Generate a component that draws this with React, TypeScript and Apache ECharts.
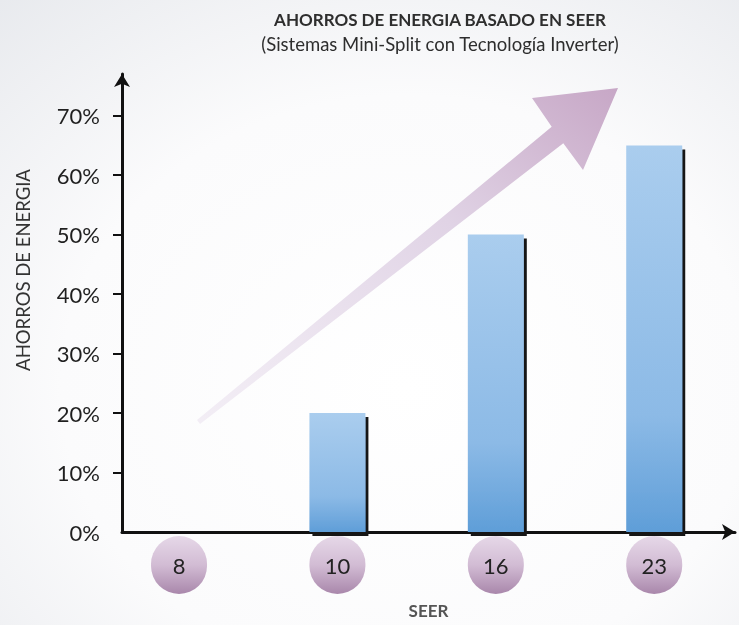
import React, { useEffect, useRef } from "react";
import * as echarts from "echarts";

const categories = ["8", "10", "16", "23"];
const savings = [0, 20, 50, 65];
const yLabelValues = [0, 10, 20, 30, 40, 50, 60, 70];
const yTickValues = [10, 20, 30, 40, 50, 60, 70];
const titleText = "AHORROS DE ENERGIA BASADO EN SEER";
const subtitleText = "(Sistemas Mini-Split con Tecnología Inverter)";
const yName = "AHORROS DE ENERGIA";
const xName = "SEER";

const FONT = "Lato, 'Open Sans', sans-serif";

export default function App() {
  const ref = useRef<HTMLDivElement>(null);
  useEffect(() => {
    if (!ref.current) return;
    const chart = echarts.init(ref.current, undefined, { renderer: "svg" });
    const option: any = {
      animation: false,
      backgroundColor: {
        type: "radial",
        x: 0.55,
        y: 0.62,
        r: 0.85,
        colorStops: [
          { offset: 0, color: "#ffffff" },
          { offset: 0.55, color: "#fbfbfc" },
          { offset: 1, color: "#e7e9ed" },
        ],
      },
      title: {
        text: titleText,
        subtext: subtitleText,
        left: 435,
        top: 6,
        textAlign: "center",
        itemGap: 6,
        textStyle: { fontFamily: FONT, fontSize: 17, fontWeight: "bold", color: "#2e2e2e" },
        subtextStyle: { fontFamily: FONT, fontSize: 18.5, color: "#2e2e2e" },
      },
      grid: { left: 122, right: 4, top: 74, bottom: 93, containLabel: false, outerBoundsMode: "none" },
      xAxis: {
        type: "value",
        min: -0.36,
        max: 3.51,
        name: xName,
        nameLocation: "middle",
        nameGap: 70,
        nameTextStyle: { fontFamily: FONT, fontSize: 17, fontWeight: "bold", color: "#555" },
        axisLine: {
          show: true,
          onZero: false,
          symbol: ["none", "arrow"],
          symbolSize: [12, 13],
          lineStyle: { color: "#111", width: 3 },
        },
        axisTick: { show: false },
        splitLine: { show: false },
        axisLabel: {
          customValues: [0, 1, 2, 3],
          margin: 4,
          formatter: (v: number) => "{c|" + categories[Math.round(v)] + "}",
          rich: {
            c: {
              width: 56,
              height: 58,
              lineHeight: 58,
              align: "center",
              borderRadius: 29,
              fontFamily: FONT,
              fontSize: 22,
              color: "#222",
              backgroundColor: {
                type: "linear",
                x: 0,
                y: 0,
                x2: 0,
                y2: 1,
                colorStops: [
                  { offset: 0, color: "#e6d8e8" },
                  { offset: 0.5, color: "#d2bcd4" },
                  { offset: 1, color: "#a987ab" },
                ],
              },
            },
          },
        },
      },
      yAxis: {
        type: "value",
        min: 0,
        max: 77,
        interval: 10,
        name: yName,
        nameLocation: "middle",
        nameGap: 90,
        nameRotate: 90,
        nameTextStyle: { fontFamily: FONT, fontSize: 18.5, color: "#333", padding: [0, 0, 0, 66] },
        axisLine: {
          show: true,
          onZero: false,
          symbol: ["none", "arrow"],
          symbolSize: [12, 13],
          lineStyle: { color: "#111", width: 3 },
        },
        axisTick: {
          show: true,
          customValues: yTickValues,
          length: 9,
          lineStyle: { color: "#111", width: 2 },
        },
        axisLabel: {
          customValues: yLabelValues,
          formatter: "{value}%",
          margin: 22,
          fontFamily: FONT,
          fontSize: 22,
          color: "#1f1f1f",
        },
        splitLine: { show: false },
      },
      graphic: [
        {
          type: "polygon",
          z: -1,
          shape: {
            points: [
              [197, 420],
              [551.7, 126.8],
              [532, 98],
              [618, 88],
              [583, 170],
              [563.3, 143.2],
              [200, 424],
            ],
          },
          style: {
            fill: {
              type: "linear",
              x: 0,
              y: 1,
              x2: 1,
              y2: 0,
              colorStops: [
                { offset: 0, color: "rgba(236,228,240,0.6)" },
                { offset: 0.6, color: "#e0d3e5" },
                { offset: 1, color: "#c7a7c6" },
              ],
            },
          },
        },
      ],
      series: [
        {
          type: "bar",
          barWidth: 56,
          data: savings.map((v, i) => [i, v]),
          itemStyle: {
            color: {
              type: "linear",
              x: 0,
              y: 0,
              x2: 0,
              y2: 1,
              colorStops: [
                { offset: 0, color: "#aacdee" },
                { offset: 0.7, color: "#8cbae6" },
                { offset: 1, color: "#5f9ed8" },
              ],
            },
            shadowColor: "#141414",
            shadowBlur: 0,
            shadowOffsetX: 3,
            shadowOffsetY: 4,
          },
        },
      ],
    };
    chart.setOption(option);
    return () => chart.dispose();
  }, []);
  return (
    <div
      ref={ref}
      style={{ position: "fixed", left: 0, top: 0, width: 739, height: 625 }}
    />
  );
}
